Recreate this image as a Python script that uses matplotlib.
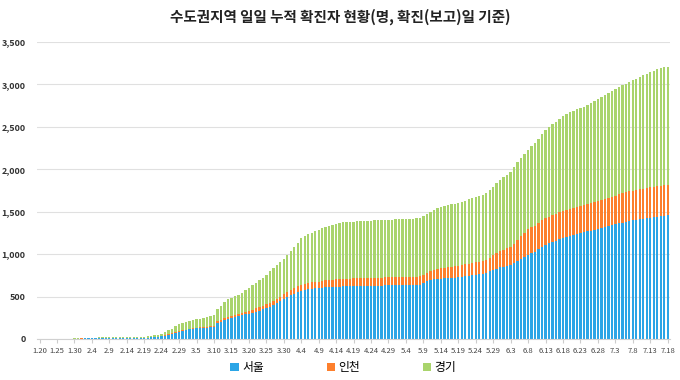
import matplotlib
matplotlib.use("Agg")
import matplotlib.pyplot as plt
from matplotlib.patches import Patch
import numpy as np
import datetime as dt

plt.rcParams['font.family'] = ['Noto Sans CJK KR', 'DejaVu Sans']

# dates 2020-01-20 .. 2020-07-18 (181 days)
start = dt.date(2020, 1, 20)
dates = [start + dt.timedelta(days=k) for k in range(181)]
labels = [f"{d.month}.{d.day}" for d in dates]

seoul = [
    # 1.20 - 1.31
    0, 0, 0, 0, 1, 1, 1, 1, 1, 1, 3, 4,
    # 2.1 - 2.29
    5, 6, 6, 6, 7, 8, 8, 8, 8, 9, 9, 9, 9, 9, 10, 11, 11, 12, 14, 16,
    19, 23, 27, 31, 40, 51, 62, 74, 85,
    # 3.1 - 3.31
    95, 103, 112, 120, 124, 127, 130, 135, 140, 145, 190, 205, 225, 240, 250, 258,
    268, 278, 290, 300, 310, 322, 335, 348, 362, 380, 400, 420, 445, 470, 495,
    # 4.1 - 4.30
    515, 535, 555, 570, 580, 588, 594, 598, 603, 606, 609, 611, 613, 615, 617,
    619, 620, 621, 622, 623, 624, 625, 626, 627, 628, 628, 629, 630, 631, 632,
    # 5.1 - 5.31
    633, 634, 635, 636, 637, 637, 638, 641, 658, 680, 696, 702, 707, 711, 714,
    717, 720, 724, 728, 733, 740, 746, 752, 758, 764, 770, 778, 795, 815, 830, 843,
    # 6.1 - 6.30
    853, 862, 872, 892, 915, 940, 965, 990, 1008, 1026, 1055, 1085, 1110, 1128, 1145,
    1160, 1175, 1190, 1202, 1214, 1225, 1236, 1247, 1258, 1268, 1278, 1288, 1298, 1308, 1318,
    # 7.1 - 7.18
    1328, 1338, 1350, 1362, 1372, 1382, 1390, 1397, 1404, 1411, 1418, 1424, 1430,
    1435, 1440, 1445, 1450, 1455,
]

incheon = [
    # 1.20 - 1.31
    0, 0, 0, 0, 0, 0, 1, 1, 1, 1, 1, 1,
    # 2.1 - 2.29
    1, 1, 1, 1, 1, 1, 1, 1, 1, 1, 1, 1, 1, 1, 1, 1, 1, 1, 1, 1,
    1, 1, 1, 1, 2, 3, 3, 4, 6,
    # 3.1 - 3.31
    6, 7, 9, 9, 9, 9, 9, 11, 12, 13, 16, 18, 20, 21, 22, 24, 26, 28, 30, 32,
    35, 38, 40, 42, 45, 48, 50, 52, 54, 56, 59,
    # 4.1 - 4.30
    61, 63, 65, 67, 69, 70, 72, 73, 74, 78, 80, 82, 84, 86, 88, 89, 90, 91, 92, 93,
    93, 94, 94, 95, 95, 95, 95, 95, 96, 96,
    # 5.1 - 5.31
    96, 96, 96, 96, 96, 97, 97, 97, 97, 98, 100, 108, 115, 120, 124, 127, 130, 132,
    134, 137, 139, 141, 143, 144, 146, 148, 152, 160, 170, 180, 190,
    # 6.1 - 6.30
    198, 206, 213, 230, 250, 268, 285, 300, 306, 308, 310, 312, 313, 314, 315,
    316, 317, 318, 319, 320, 321, 322, 323, 324, 326, 328, 329, 330, 332, 334,
    # 7.1 - 7.18
    336, 338, 340, 342, 344, 346, 348, 350, 352, 354, 355, 356, 357, 358, 359, 360, 361, 362,
]

gyeonggi = [
    # 1.20 - 1.31
    0, 0, 0, 0, 0, 0, 1, 1, 1, 1, 2, 3,
    # 2.1 - 2.29
    5, 6, 6, 7, 8, 9, 9, 9, 9, 10, 10, 10, 10, 10, 10, 10, 10, 11, 12, 13,
    15, 18, 21, 24, 36, 48, 58, 70, 80,
    # 3.1 - 3.31
    86, 90, 94, 95, 98, 100, 105, 110, 118, 125, 150, 167, 185, 206, 213, 220,
    228, 238, 252, 268, 295, 305, 315, 328, 345, 372, 385, 398, 410, 422, 436,
    # 4.1 - 4.30
    460, 485, 510, 553, 565, 576, 585, 598, 608, 620, 630, 637, 643, 650, 663,
    665, 667, 668, 669, 670, 670, 671, 671, 672, 673, 674, 675, 676, 677, 678,
    # 5.1 - 5.31
    679, 680, 681, 682, 683, 684, 685, 686, 695, 700, 705, 712, 718, 724, 728,
    731, 735, 737, 740, 745, 750, 757, 765, 770, 775, 780, 790, 800, 810, 825, 840,
    # 6.1 - 6.30
    855, 870, 885, 900, 915, 925, 932, 938, 955, 976, 995, 1015, 1040, 1055, 1070,
    1085, 1100, 1120, 1130, 1138, 1143, 1147, 1150, 1155, 1165, 1175, 1185, 1198, 1212, 1222,
    # 7.1 - 7.18
    1232, 1242, 1252, 1262, 1272, 1280, 1290, 1300, 1312, 1322, 1332, 1345, 1357,
    1367, 1377, 1388, 1392, 1393,
]

series_names = ['서울', '인천', '경기']
colors = ['#2ba5e6', '#fd7f2c', '#a9d46c']

s = np.array(seoul)
i_ = np.array(incheon)
g = np.array(gyeonggi)
x = np.arange(len(labels))

fig = plt.figure(figsize=(6.8, 3.8), dpi=100)
ax = fig.add_axes([0.054, 0.108, 0.932, 0.7816])

w = 0.68
ax.bar(x, s, width=w, color=colors[0], zorder=2)
ax.bar(x, i_, width=w, bottom=s, color=colors[1], zorder=2)
ax.bar(x, g, width=w, bottom=s + i_, color=colors[2], zorder=2)

ax.set_xlim(-0.8, len(labels) - 0.2)
ax.set_ylim(0, 3500)
ax.set_yticks(np.arange(0, 3501, 500))
ax.set_yticklabels([f"{v:,}" for v in range(0, 3501, 500)], fontsize=6.5,
                   fontweight='bold', color='#333333')
ax.yaxis.grid(True, color='#e0e0e0', linewidth=0.8, zorder=0)
ax.set_axisbelow(True)

ticks = x[::5]
ax.set_xticks(ticks)
ax.set_xticklabels([labels[k] for k in ticks], fontsize=5.5, color='#444444')
ax.tick_params(axis='x', length=3, color='#cccccc', pad=3)
ax.tick_params(axis='y', length=0, pad=8)

for sp in ['top', 'right', 'left']:
    ax.spines[sp].set_visible(False)
ax.spines['bottom'].set_color('#d0d0d0')

fig.text(0.5, 0.955, '수도권지역 일일 누적 확진자 현황(명, 확진(보고)일 기준)',
         ha='center', va='center', fontsize=10.5, fontweight='bold', color='#222222')

handles = [Patch(facecolor=c, edgecolor='none') for c in colors]
fig.legend(handles, series_names, loc='center', bbox_to_anchor=(0.505, 0.032),
           ncol=3, frameon=False, fontsize=8.5, handlelength=0.7, handleheight=0.7,
           handletextpad=0.3, columnspacing=5.3)

fig.savefig('out.png', dpi=100)
